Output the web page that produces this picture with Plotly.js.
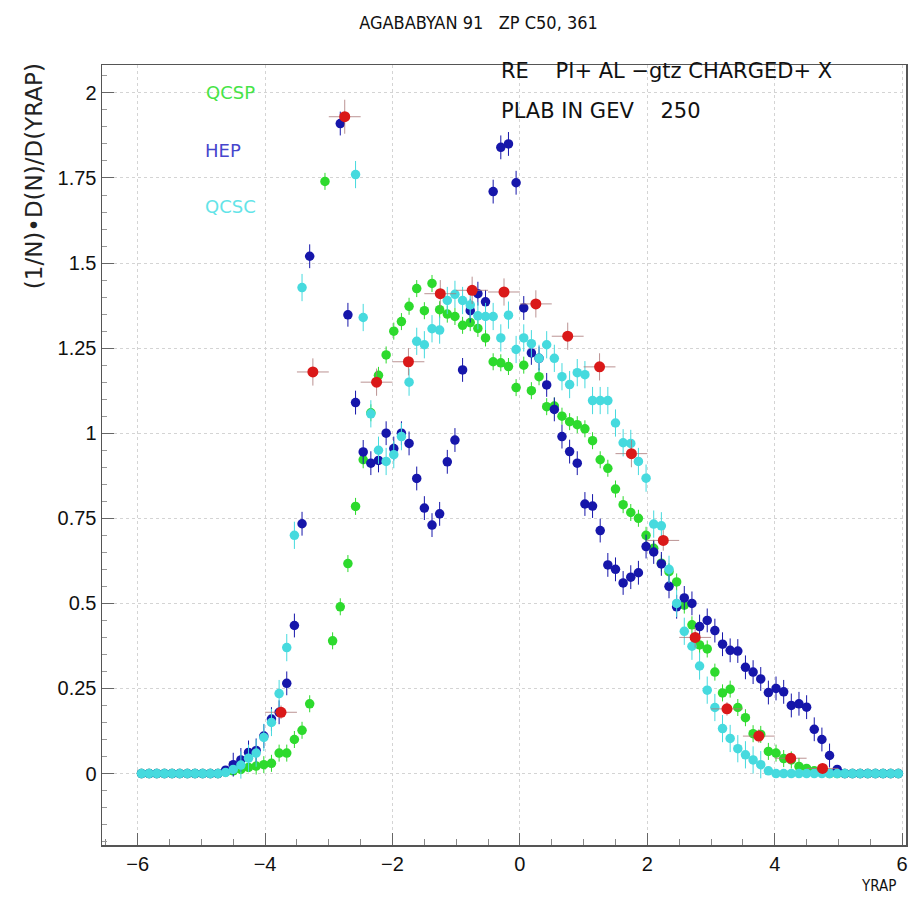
<!DOCTYPE html>
<html>
<head>
<meta charset="utf-8">
<script src="https://cdn.plot.ly/plotly-3.0.1.min.js"></script>
<style>html,body{margin:0;padding:0;background:#fff;}#chart{width:908px;height:899px;}</style>
</head>
<body>
<div id="chart"></div>
<script>
// rapidity bin centres (width 0.12)
const yrapBins = [-5.94,-5.82,-5.70,-5.58,-5.46,-5.34,-5.22,-5.10,-4.98,-4.86,
 -4.74,-4.62,-4.50,-4.38,-4.26,-4.14,-4.02,-3.90,-3.78,-3.66,
 -3.54,-3.42,-3.30,-3.18,-3.06,-2.94,-2.82,-2.70,-2.58,-2.46,
 -2.34,-2.22,-2.10,-1.98,-1.86,-1.74,-1.62,-1.50,-1.38,-1.26,
 -1.14,-1.02,-0.90,-0.78,-0.66,-0.54,-0.42,-0.30,-0.18,-0.06,
 0.06,0.18,0.30,0.42,0.54,0.66,0.78,0.90,1.02,1.14,
 1.26,1.38,1.50,1.62,1.74,1.86,1.98,2.10,2.22,2.34,
 2.46,2.58,2.70,2.82,2.94,3.06,3.18,3.30,3.42,3.54,
 3.66,3.78,3.90,4.02,4.14,4.26,4.38,4.50,4.62,4.74,
 4.86,4.98,5.10,5.22,5.34,5.46,5.58,5.70,5.82,5.94];

const qcsp = [0,0,0,0,0,0,0,0,0,0,
 0,0.004,0.008,0.012,0.018,0.022,0.026,0.03,0.06,0.06,
 0.1,0.127,0.205,null,1.74,0.39,0.49,0.617,0.785,0.922,
 1.06,1.17,1.23,1.3,1.328,1.373,1.425,1.36,1.44,1.363,
 1.35,1.343,1.317,1.325,1.308,1.28,1.21,1.207,1.196,1.134,
 1.2,1.125,1.166,1.078,1.08,1.05,1.034,1.025,1.013,0.978,
 0.922,0.897,0.836,0.79,0.767,0.75,0.70,0.662,0.618,0.593,
 0.563,0.495,0.437,0.378,0.366,0.298,0.237,0.248,0.194,0.164,
 0.117,0.115,0.065,0.06,0.044,0.04,0.021,0.015,0.008,0.003,
 0,0,0,0,0,0,0,0,0,0];

const hep = [0,0,0,0,0,0,0,0,0,0,
 0,0.01,0.026,0.04,0.062,0.068,0.11,0.16,0.18,0.265,
 0.435,0.734,1.52,null,null,null,1.91,1.348,1.09,0.945,
 0.912,0.92,1.0,0.955,1.0,0.97,0.867,0.78,0.73,0.763,
 0.916,0.98,1.186,1.36,1.41,1.386,1.71,1.84,1.85,1.736,
 1.368,1.236,1.22,1.142,1.07,0.99,0.946,0.912,0.792,0.786,
 0.714,0.613,0.6,0.56,0.577,0.59,0.667,0.651,0.616,0.55,
 0.49,0.516,0.5,0.432,0.45,0.42,0.38,0.362,0.36,0.312,
 0.298,0.278,0.238,0.25,0.24,0.2,0.205,0.195,0.13,0.1,
 0.053,0.012,0,0,0,0,0,0,0,0];

const qcsc = [0,0,0,0,0,0,0,0,0,0,
 0,0.003,0.012,0.025,0.045,0.06,0.106,0.15,0.235,0.37,
 0.7,1.428,null,null,null,null,null,null,1.76,1.34,
 1.057,0.95,0.917,0.937,0.99,1.15,1.27,1.26,1.307,1.303,
 1.39,1.408,1.39,1.377,1.345,1.343,1.343,1.28,1.347,1.246,
 1.28,1.263,1.22,1.26,1.22,1.166,1.143,1.178,1.172,1.096,
 1.096,1.096,1.03,0.972,0.97,0.917,0.868,0.733,0.728,0.6,
 0.5,0.418,0.374,0.316,0.245,0.194,0.132,0.103,0.073,0.055,
 0.04,0.026,0.008,0,0,0,0,0,0,0,
 0,0,0,0,0,0,0,0,0,0];

// measured data (red)
const dataX = [-3.75,-3.25,-2.75,-2.25,-1.75,-1.25,-0.75,-0.25,0.25,0.75,1.25,1.75,2.25,2.75,3.25,3.75,4.25,4.75];
const dataY = [0.18,1.18,1.93,1.15,1.21,1.41,1.42,1.415,1.38,1.285,1.195,0.94,0.685,0.40,0.19,0.11,0.045,0.015];
const dataYErr = [0.02,0.04,0.05,0.04,0.04,0.04,0.04,0.04,0.04,0.04,0.04,0.04,0.03,0.03,0.02,0.02,0.015,0.01];
const dataXErr = [0.25,0.25,0.25,0.25,0.25,0.25,0.25,0.25,0.25,0.25,0.25,0.25,0.25,0.25,0.25,0.25,0.25,0.25];

const yTickVals = [0,0.25,0.5,0.75,1,1.25,1.5,1.75,2];
const yTickText = ['0','0.25','0.5','0.75','1','1.25','1.5','1.75','2'];
const xTickVals = [-6,-4,-2,0,2,4,6];
const xTickText = ['\u22126','\u22124','\u22122','0','2','4','6'];

const NARROW = 'Liberation Sans Narrow, Liberation Sans, Arial, sans-serif';
const WIDE = 'DejaVu Sans, Verdana, sans-serif';
const COND = 'DejaVu Sans Condensed, DejaVu Sans, sans-serif';
const cGreen = 'rgb(45,218,45)';
const cBlue = 'rgb(22,22,170)';
const cCyan = 'rgb(70,218,222)';
const cRed = 'rgb(218,25,25)';

function model(name, ys, color, err) {
  return {
    type: 'scatter', mode: 'markers', name: name, x: yrapBins, y: ys,
    marker: {color: color, size: 9.5, line: {width: 0}},
    error_y: {type: 'data', array: ys.map(v => (v !== null && v > 0.02) ? err : 0),
              color: color, thickness: 1, width: 0},
    showlegend: false
  };
}

const traces = [
  model('QCSP', qcsp, cGreen, 0.025),
  model('HEP', hep, cBlue, 0.035),
  model('QCSC', qcsc, cCyan, 0.04),
  {
    type: 'scatter', mode: 'markers', name: 'data', x: dataX, y: dataY,
    marker: {color: cRed, size: 11, line: {width: 0}},
    error_y: {type: 'data', array: dataYErr, color: 'rgba(170,120,120,0.8)', thickness: 1, width: 0},
    error_x: {type: 'data', array: dataXErr, color: 'rgba(170,120,120,0.8)', thickness: 1, width: 0},
    showlegend: false
  }
];

const nb = '\u00a0';
const layout = {
  width: 908, height: 899,
  paper_bgcolor: '#fff', plot_bgcolor: '#fff',
  margin: {l: 102, r: 2, t: 65, b: 54},
  showlegend: false,
  font: {family: NARROW, size: 15, color: '#111'},
  title: {
    text: 'AGABABYAN 91' + nb+nb+nb + 'ZP C50, 361',
    font: {family: COND, size: 18, color: '#111'},
    xref: 'container', x: 0.527, xanchor: 'center',
    yref: 'container', y: 0.975, yanchor: 'middle'
  },
  xaxis: {
    range: [-6.56, 6.06], showline: true, mirror: true, linecolor: '#555', linewidth: 1.5,
    tickmode: 'array', tickvals: xTickVals, ticktext: xTickText, ticklabeloverflow: 'allow',
    ticks: 'inside', ticklen: 12, tickcolor: '#666', tickwidth: 1,
    minor: {dtick: 0.5, ticks: 'inside', ticklen: 6, tickcolor: '#888', showgrid: false},
    showgrid: true, gridcolor: '#d4d4d4', griddash: 'dot', gridwidth: 1,
    zeroline: false, tickfont: {family: NARROW, size: 20, color: '#111'}, ticklabelstandoff: 0
  },
  yaxis: {
    range: [-0.21, 2.082], showline: true, mirror: true, linecolor: '#555', linewidth: 1.5,
    tickmode: 'array', tickvals: yTickVals, ticktext: yTickText,
    ticks: 'inside', ticklen: 12, tickcolor: '#666', tickwidth: 1,
    minor: {dtick: 0.05, ticks: 'inside', ticklen: 5, tickcolor: '#999', showgrid: false},
    showgrid: true, gridcolor: '#d4d4d4', griddash: 'dot', gridwidth: 1,
    zeroline: false, tickfont: {family: NARROW, size: 20, color: '#111'}, ticklabelstandoff: 0
  },
  annotations: [
    {xref: 'paper', yref: 'paper', x: -0.085, y: 0.857, text: '(1/N)\u2022D(N)/D(YRAP)', textangle: -90,
     showarrow: false, font: {family: WIDE, size: 23, color: '#222'}, xanchor: 'center', yanchor: 'middle'},
    {xref: 'paper', yref: 'paper', x: 0.966, y: -0.053, text: 'YRAP', showarrow: false,
     font: {family: COND, size: 15, color: '#111'}, xanchor: 'center', yanchor: 'middle'},
    {xref: 'x', yref: 'y', x: -4.55, y: 2.0, text: 'QCSP', showarrow: false, xanchor: 'center', yanchor: 'middle',
     font: {family: WIDE, size: 18, color: 'rgb(70,228,70)'}},
    {xref: 'x', yref: 'y', x: -4.66, y: 1.83, text: 'HEP', showarrow: false, xanchor: 'center', yanchor: 'middle',
     font: {family: WIDE, size: 18, color: 'rgb(70,70,205)'}},
    {xref: 'x', yref: 'y', x: -4.55, y: 1.665, text: 'QCSC', showarrow: false, xanchor: 'center', yanchor: 'middle',
     font: {family: WIDE, size: 18, color: 'rgb(100,228,232)'}},
    {xref: 'x', yref: 'y', x: -0.33, y: 2.063, text: 'RE' + nb+nb+nb+nb + 'PI+ AL \u2212gtz CHARGED+ X', showarrow: false,
     xanchor: 'left', yanchor: 'middle', font: {family: WIDE, size: 21, color: '#111'}},
    {xref: 'x', yref: 'y', x: -0.33, y: 1.947, text: 'PLAB IN GEV' + nb+nb+nb+nb + '250', showarrow: false,
     xanchor: 'left', yanchor: 'middle', font: {family: WIDE, size: 21, color: '#111'}}
  ]
};

Plotly.newPlot('chart', traces, layout, {displayModeBar: false, staticPlot: true});
</script>
</body>
</html>
